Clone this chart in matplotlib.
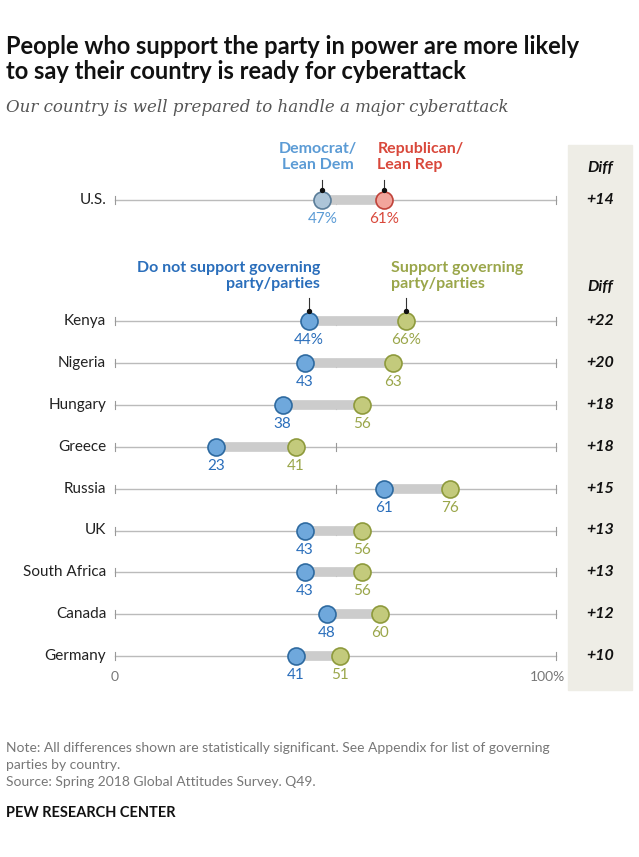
import matplotlib
matplotlib.use("Agg")
import matplotlib.pyplot as plt

countries = ["Kenya", "Nigeria", "Hungary", "Greece", "Russia", "UK", "South Africa", "Canada", "Germany"]
not_support = [44, 43, 38, 23, 61, 43, 43, 48, 41]
support = [66, 63, 56, 41, 76, 56, 56, 60, 51]
diffs = ["+22", "+20", "+18", "+18", "+15", "+13", "+13", "+12", "+10"]
us_dem, us_rep, us_diff = 47, 61, "+14"

fig = plt.figure(figsize=(6.39, 8.57), dpi=100)
ax = fig.add_axes([0, 0, 1, 1])
ppu = 4.41
ax.set_xlim(-115 / ppu, (639 - 115) / ppu)
ax.set_ylim(857, 0)
ax.axis("off")

fam = "Lato"
ax.add_patch(plt.Rectangle(((568 - 115) / ppu, 145), 64 / ppu, 545, color="#eeede6", zorder=0))

def row(y, label, a, b, ca_f, ca_e, cb_f, cb_e, ta, tb, lca, lcb, d):
    ax.plot([0, 100], [y, y], color="#bbbbbb", lw=1, zorder=1)
    for t in (0, 50, 100):
        ax.plot([t, t], [y - 4, y + 4], color="#999999", lw=0.8, zorder=1)
    ax.plot([a, b], [y, y], color="#cccccc", lw=7, solid_capstyle="butt", zorder=2)
    ax.scatter([a], [y], s=150, color=ca_f, edgecolor=ca_e, lw=1.2, zorder=3)
    ax.scatter([b], [y], s=150, color=cb_f, edgecolor=cb_e, lw=1.2, zorder=3)
    ax.text(a, y + 19, ta, color=lca, ha="center", va="center", fontsize=11, family=fam)
    ax.text(b, y + 19, tb, color=lcb, ha="center", va="center", fontsize=11, family=fam)
    ax.text(-2, y, label, ha="right", va="center", fontsize=11, family=fam, color="#222222")
    ax.text(600 / ppu - 115 / ppu, y, d, ha="center", va="center", fontsize=11.5, family=fam,
            style="italic", weight="bold", color="#111111")

NB_F, NB_E, NB_T = "#6fa8dc", "#2e6aa0", "#2a6ebb"
S_F, S_E, S_T = "#c3ca7c", "#8e9a3c", "#9aa64a"

row(200, "U.S.", us_dem, us_rep, "#adc5d8", "#5a7d99", "#f2a59c", "#c0433a",
    f"{us_dem}%", f"{us_rep}%", "#5b9bd5", "#d9483b", us_diff)
ys = [321 + i * 41.9 for i in range(len(countries))]
for i, c in enumerate(countries):
    ta = f"{not_support[i]}%" if i == 0 else str(not_support[i])
    tb = f"{support[i]}%" if i == 0 else str(support[i])
    row(ys[i], c, not_support[i], support[i], NB_F, NB_E, S_F, S_E, ta, tb, NB_T, S_T, diffs[i])

for x, y0, y1 in [(us_dem, 180, 190), (us_rep, 180, 190), (not_support[0], 298, 311), (support[0], 298, 311)]:
    ax.plot([x, x], [y0, y1], color="#333333", lw=0.8, zorder=4)
    ax.scatter([x], [y1], s=8, color="#111111", zorder=4)

ax.text(us_dem - 1, 157, "Democrat/\nLean Dem", color="#5b9bd5", ha="center", va="center",
        fontsize=11.5, weight="bold", family=fam, linespacing=1.2)
ax.text(us_rep - 1.5, 157, "Republican/\nLean Rep", color="#d9483b", ha="left", va="center",
        fontsize=11.5, weight="bold", family=fam, linespacing=1.2)
ax.text(us_dem - 0.5, 276, "Do not support governing\nparty/parties", color=NB_T, ha="right",
        va="center", fontsize=11.5, weight="bold", family=fam, linespacing=1.2)
ax.text(support[0] - 3.5, 276, "Support governing\nparty/parties", color=S_T, ha="left",
        va="center", fontsize=11.5, weight="bold", family=fam, linespacing=1.2)
for y in (168, 287):
    ax.text(600 / ppu - 115 / ppu, y, "Diff", ha="center", va="center", fontsize=11.5,
            family=fam, style="italic", weight="bold", color="#111111")

ax.text(0, 677, "0", ha="center", va="center", fontsize=10, color="#777777", family=fam)
ax.text(98, 677, "100%", ha="center", va="center", fontsize=10, color="#777777", family=fam)

fig.text(6 / 639, 1 - 59 / 857, "People who support the party in power are more likely\nto say their country is ready for cyberattack",
         fontsize=17, weight="bold", family=fam, va="center", color="#111111", linespacing=1.15)
fig.text(6 / 639, 1 - 108 / 857, "Our country is well prepared to handle a major cyberattack",
         fontsize=12, style="italic", family="DejaVu Serif", va="center", color="#555555")
fig.text(6 / 639, 1 - 765 / 857, "Note: All differences shown are statistically significant. See Appendix for list of governing\nparties by country.\nSource: Spring 2018 Global Attitudes Survey. Q49.",
         fontsize=10, family=fam, va="center", color="#777777", linespacing=1.45)
fig.text(6 / 639, 1 - 813 / 857, "PEW RESEARCH CENTER", fontsize=10.5, weight="bold", family=fam,
         va="center", color="#111111")

fig.savefig("out.png", dpi=100)
